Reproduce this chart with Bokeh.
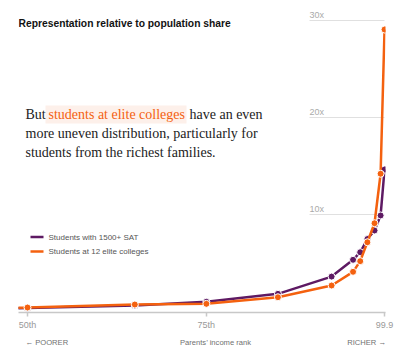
from bokeh.plotting import figure
from bokeh.models import (Range1d, FixedTicker, Label, BoxAnnotation, ColumnDataSource,
                          LinearAxis)
from bokeh.core.properties import value
from bokeh.embed import file_html
from bokeh.resources import INLINE

# ---- data ----
income_rank = [45, 50, 65, 75, 85, 92.5, 95.5, 96.5, 97.5, 98.5, 99.35, 99.9]
sat_1500 = [0.33, 0.35, 0.62, 1.0, 1.82, 3.6, 5.33, 6.11, 7.47, 8.35, 9.9, 14.64]
elite_12 = [0.36, 0.41, 0.72, 0.79, 1.47, 2.68, 4.09, 5.19, 7.14, 9.1, 14.2, 29.07]
x_ticks = [50, 75, 99.9]
x_tick_labels = ["50th", "75th", "99.9"]
y_grid = [10, 20, 30]
y_grid_labels = ["10x", "20x", "30x"]
bottom_ticks = [52.7, 76.3, 97.4]
bottom_labels = ["\u2190 POORER", "Parents\u2019 income rank", "RICHER \u2192"]

PURPLE = "#5e1a63"
ORANGE = "#f4610f"

# pixel helpers (layout only)
def dx(px):
    return 50 + (px - 27) / 7.155

def dy(py):
    return (311 - py) / 9.7

p = figure(width=400, height=355, output_backend="svg", toolbar_location=None,
           x_range=Range1d(dx(18), dx(385)), y_range=Range1d(dy(312), dy(0)),
           min_border_left=18, min_border_right=15, min_border_top=0, min_border_bottom=43)
p.outline_line_color = None
p.background_fill_color = "white"
p.border_fill_color = "white"
p.yaxis.visible = False
p.xgrid.visible = False
p.ygrid.visible = False

xa = p.xaxis[0]
xa.ticker = FixedTicker(ticks=x_ticks)
xa.major_label_overrides = {t: l for t, l in zip(x_ticks, x_tick_labels)}
xa.axis_line_color = "#c8c8c8"
xa.axis_line_width = 1.5
xa.major_tick_line_color = "#c8c8c8"
xa.major_tick_line_width = 1.5
xa.major_tick_out = 4
xa.major_tick_in = 0
xa.minor_tick_line_color = None
xa.major_label_text_color = "#999999"
xa.major_label_text_font = "Liberation Sans"
xa.major_label_text_font_size = "9px"
xa.major_label_standoff = 3

xb = LinearAxis(ticker=FixedTicker(ticks=bottom_ticks),
                major_label_overrides={t: l for t, l in zip(bottom_ticks, bottom_labels)},
                axis_line_color=None, major_tick_line_color=None, minor_tick_line_color=None,
                major_tick_out=0, major_tick_in=0, major_label_standoff=5,
                major_label_text_color="#707070", major_label_text_font="Liberation Sans",
                major_label_text_font_size="7.6px")
p.add_layout(xb, "below")

# gridlines (short, right side only)
gsrc = ColumnDataSource(dict(y=y_grid, lab=y_grid_labels,
                             x0=[dx(309)] * 3, x1=[dx(384)] * 3))
p.segment(x0="x0", x1="x1", y0="y", y1="y", source=gsrc, line_color="#e0e0e0", line_width=1)
p.text(x="x0", y="y", text="lab", source=gsrc, y_offset=-6, text_baseline="middle",
       text_color="#aaaaaa", text_font=value("Liberation Sans"), text_font_size="9px")

# series
p.line(income_rank, sat_1500, line_color=PURPLE, line_width=2.5)
p.scatter(income_rank, sat_1500, size=7, fill_color=PURPLE, line_color="white", line_width=1)
p.line(income_rank, elite_12, line_color=ORANGE, line_width=2.5)
p.scatter(income_rank, elite_12, size=7, fill_color=ORANGE, line_color="white", line_width=1)

# title
p.add_layout(Label(x=dx(18), y=dy(23), text="Representation relative to population share",
                   text_font="Liberation Sans", text_font_style="bold", text_font_size="10.3px",
                   text_color="#121212", text_baseline="middle"))

# paragraph
p.add_layout(BoxAnnotation(left=dx(45), right=dx(186), top=dy(105), bottom=dy(123),
                           fill_color="#fdf0ea", fill_alpha=1, line_color=None, level="underlay"))
serif = "Liberation Serif"
fs = "14px"
def para(px, py, txt, col="#222222"):
    p.add_layout(Label(x=dx(px), y=dy(py), text=txt, text_font=serif, text_font_size=fs,
                       text_color=col, text_baseline="middle"))
para(25, 114, "But")
para(48, 114, "students at elite colleges", ORANGE)
para(189, 114, "have an even")
para(25, 133, "more uneven distribution, particularly for")
para(25, 152, "students from the richest families.")

# legend
lsrc = ColumnDataSource(dict(x0=[dx(30)] * 2, x1=[dx(43)] * 2, y=[dy(236.5), dy(251)],
                             c=[PURPLE, ORANGE], tx=[dx(48)] * 2,
                             lab=["Students with 1500+ SAT", "Students at 12 elite colleges"]))
p.segment(x0="x0", x1="x1", y0="y", y1="y", line_color="c", line_width=2.5, source=lsrc)
p.text(x="tx", y="y", text="lab", source=lsrc, text_baseline="middle", text_color="#555555",
       text_font=value("Liberation Sans"), text_font_size="8px")

open("out.html", "w").write(file_html(p, INLINE))
